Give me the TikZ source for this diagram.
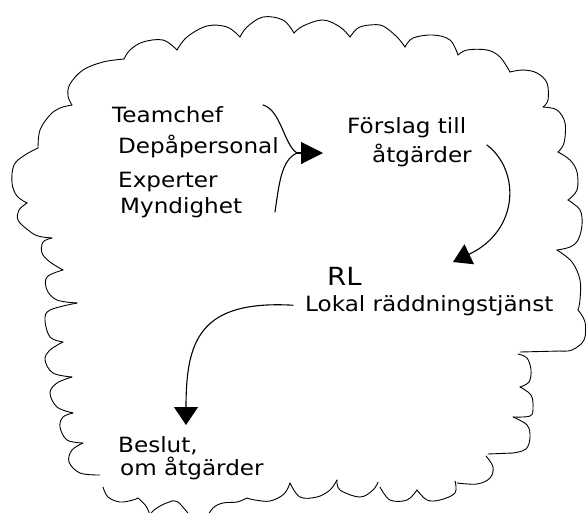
\documentclass[tikz,border=0pt]{standalone}
\usepackage{fontspec}
\newfontfamily\hand[FakeStretch=1.1]{DejaVu Sans}
\usetikzlibrary{arrows.meta}
\newcommand\cloudseg[1]{\draw[cloud] plot[smooth, tension=0.6] coordinates {#1};}
\begin{document}
\begin{tikzpicture}[x=1pt,y=1pt,
  cloud/.style={line width=0.9pt, line cap=round, line join=round},
  conn/.style={line width=1.1pt, line cap=round},
  lbl/.style={font=\hand\fontsize{21}{25}\selectfont, inner sep=0pt, anchor=base west}]
\useasboundingbox (0,0) rectangle (586,-512);
\fill[white] (0,0) rectangle (586,-512);

% ---- cloud outline ----
\cloudseg{(72,-105) (68,-96) (70,-84) (83,-70) (103,-62) (124,-59)}
\cloudseg{(124,-59) (130,-50) (143,-42) (163,-40) (177,-50)}
\cloudseg{(177,-50) (187,-37) (207,-26) (227,-27) (240,-37)}
\cloudseg{(240,-37) (247,-27) (263,-17) (283,-20) (294,-33)}
\cloudseg{(294,-33) (303,-26) (323,-20) (340,-27) (350,-37)}
\cloudseg{(350,-37) (358,-28) (370,-25) (383,-26) (397,-37) (405,-47)}
\cloudseg{(405,-47) (413,-38) (433,-35) (450,-40) (458,-55)}
\cloudseg{(458,-55) (467,-50) (487,-50) (500,-57) (510,-72)}
\cloudseg{(510,-72) (523,-70) (537,-73) (547,-83) (548,-100) (543,-107)}
\cloudseg{(543,-107) (557,-110) (565,-123) (564,-143) (558,-152)}
\cloudseg{(558,-152) (570,-160) (577,-172) (577,-190) (568,-200)}
\cloudseg{(568,-200) (580,-210) (582,-225) (578,-240) (570,-247) (557,-250)}
\cloudseg{(557,-250) (572,-262) (580,-280) (580,-300) (578,-310)}
\cloudseg{(578,-310) (585,-322) (584,-340) (572,-350) (560,-351)}
\draw[cloud] (560,-351) -- (520,-352);
\cloudseg{(518,-354) (527,-358) (531,-370) (529,-382) (520,-387)}
\cloudseg{(520,-387) (531,-395) (533,-408) (530,-416) (513,-417)}
\cloudseg{(513,-417) (527,-425) (530,-437) (526,-449) (513,-453)}
\draw[cloud] (513,-453) -- (488,-454);
\cloudseg{(486,-456) (493,-467) (490,-478) (477,-484) (457,-483)}
\cloudseg{(455,-481) (455,-493) (440,-500) (427,-500) (417,-490)}
\cloudseg{(417,-490) (407,-500) (390,-500) (380,-487)}
\cloudseg{(378,-482) (373,-490) (360,-497) (340,-490) (337,-480)}
\cloudseg{(337,-480) (330,-490) (317,-497) (300,-497) (290,-483)}
\cloudseg{(290,-483) (284,-494) (270,-501) (255,-500) (247,-498)}
\cloudseg{(247,-498) (237,-502) (223,-503) (213,-508) (205,-520)}
\cloudseg{(197,-525) (187,-512) (178,-502) (172,-501)}
\cloudseg{(172,-501) (162,-505) (152,-512) (148,-522)}
\cloudseg{(150,-515) (146,-506) (138,-498)}
\cloudseg{(138,-498) (133,-500) (120,-502) (108,-497) (103,-487)}
\cloudseg{(100,-475) (80,-473) (69,-462) (72,-450) (83,-443)}
\cloudseg{(83,-443) (67,-440) (60,-427) (63,-417) (73,-413)}
\cloudseg{(73,-413) (57,-407) (50,-393) (57,-383) (72,-377)}
\cloudseg{(72,-377) (53,-373) (45,-360) (50,-350) (63,-342)}
\cloudseg{(63,-342) (50,-337) (45,-320) (50,-310) (77,-303)}
\cloudseg{(77,-303) (57,-300) (47,-290) (47,-277) (63,-270)}
\cloudseg{(63,-270) (50,-262) (42,-253) (43,-242) (52,-238)}
\cloudseg{(52,-238) (38,-236) (28,-230) (18,-220) (19,-210) (27,-203)}
\cloudseg{(27,-203) (17,-196) (12,-183) (14,-165) (25,-155) (38,-148)}
\cloudseg{(38,-148) (40,-130) (50,-115) (60,-108) (72,-105)}

% ---- texts ----
\node[lbl] (team)   at (112,-122) {Teamchef};
\node[lbl] (depa)   at (118,-153) {Depåpersonal};
\node[lbl] (expert) at (118,-187) {Experter};
\node[lbl] (myn)    at (120,-213) {Myndighet};
\node[lbl] (forslag) at (347,-133) {Förslag till};
\node[lbl] (atg)    at (372,-162) {åtgärder};
\node[lbl, font=\hand\fontsize{25}{28}\selectfont] (rl) at (327,-285) {RL};
\node[lbl] (lokal)  at (305,-311) {Lokal räddningstjänst};
\node[lbl] (beslut) at (118,-452) {Beslut,};
\node[lbl] (om)     at (120,-475) {om åtgärder};

% ---- connectors ----
\coordinate (bt) at (263,-105);
\coordinate (bb) at (275,-212);
\coordinate (bp) at (297,-153);
\coordinate (ta) at (forslag.west |- bp);
\draw[conn] (bt) .. controls (281,-110) and (284,-145) .. (bp);
\draw[conn] (bb) .. controls (279,-185) and (281,-160) .. (bp);
\draw[conn, -{Triangle[length=22pt,width=22pt]}] (bp) -- ([xshift=-24pt]ta);

\coordinate (b1) at ([xshift=15pt,yshift=10pt]atg.east);
\coordinate (b2) at (453,-262);
\draw[conn, -{Triangle[length=18pt,width=22pt]}] (b1) .. controls (520,-170) and (520,-230) .. (b2);

\coordinate (c1) at ([xshift=-12pt]lokal.west);
\draw[conn, -{Triangle[length=18pt,width=24pt]}] (c1) .. controls (200,-300) and (186,-340) .. (186,-425);
\end{tikzpicture}
\end{document}
